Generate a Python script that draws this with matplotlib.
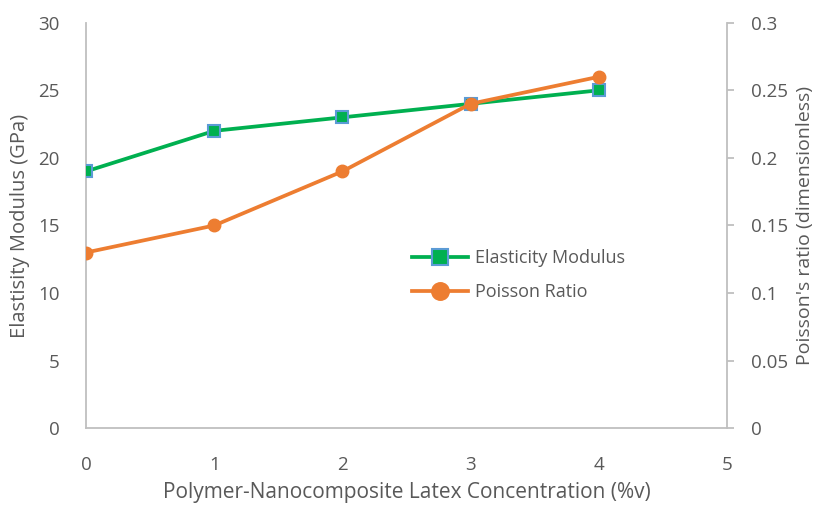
import matplotlib
matplotlib.use("Agg")
import matplotlib.pyplot as plt

concentration = [0, 1, 2, 3, 4]
elasticity_gpa = [19, 22, 23, 24, 25]
poisson_ratio = [0.13, 0.15, 0.19, 0.24, 0.26]

x_ticks = [0, 1, 2, 3, 4, 5]
left_ticks = [0, 5, 10, 15, 20, 25, 30]
right_ticks = [0, 0.05, 0.1, 0.15, 0.2, 0.25, 0.3]
right_tick_labels = ["0", "0.05", "0.1", "0.15", "0.2", "0.25", "0.3"]

plt.rcParams["font.family"] = ["Open Sans", "DejaVu Sans"]
text_color = "#595959"
axis_color = "#BFBFBF"
green = "#00B050"
orange = "#ED7D31"
blue_edge = "#5B9BD5"

fig = plt.figure(figsize=(8.16, 5.05), dpi=100)
ax = fig.add_axes([0.1054, 0.152, 0.7855, 0.803])
ax2 = ax.twinx()

l1, = ax.plot(concentration, elasticity_gpa, color=green, lw=2.7, marker="s",
              markersize=8.2, markerfacecolor=green, markeredgecolor=blue_edge,
              markeredgewidth=1.5, label="Elasticity Modulus", zorder=3)
l2, = ax2.plot(concentration, poisson_ratio, color=orange, lw=2.7, marker="o",
               markersize=9, markerfacecolor=orange, markeredgecolor=orange,
               label="Poisson Ratio", zorder=3)

ax.set_xlim(0, 5)
ax.set_ylim(0, 30)
ax2.set_ylim(0, 0.3)
ax.set_xticks(x_ticks)
ax.set_yticks(left_ticks)
ax2.set_yticks(right_ticks)
ax2.set_yticklabels(right_tick_labels)

for a in (ax, ax2):
    a.spines["top"].set_visible(False)
    for sp in a.spines.values():
        sp.set_color(axis_color)
        sp.set_linewidth(1.3)
ax.spines["right"].set_visible(False)
ax2.spines["left"].set_visible(False)
ax2.spines["bottom"].set_visible(False)

ax.tick_params(axis="y", length=0, pad=19, labelsize=13.5, labelcolor=text_color)
ax.tick_params(axis="x", length=0, pad=20, labelsize=13.5, labelcolor=text_color)
ax2.tick_params(axis="y", length=5, width=1.3, color=axis_color, pad=12,
                labelsize=13.5, labelcolor=text_color)

ax.set_xlabel("Polymer-Nanocomposite Latex Concentration (%v)", fontsize=15,
              color=text_color, labelpad=6)
ax.set_ylabel("Elastisity Modulus (GPa)", fontsize=14.5, color=text_color, labelpad=6)
ax2.set_ylabel("Poisson's ratio (dimensionless)", fontsize=14, color=text_color,
               labelpad=6)

leg = ax.legend(handles=[l1, l2], loc="center left", bbox_to_anchor=(0.509, 0.378),
                frameon=False, fontsize=13, handlelength=3.1, labelspacing=0.9,
                handletextpad=0.35, borderpad=0, borderaxespad=0, markerscale=1.4)
for t in leg.get_texts():
    t.set_color(text_color)

fig.savefig("out.png", dpi=100)
